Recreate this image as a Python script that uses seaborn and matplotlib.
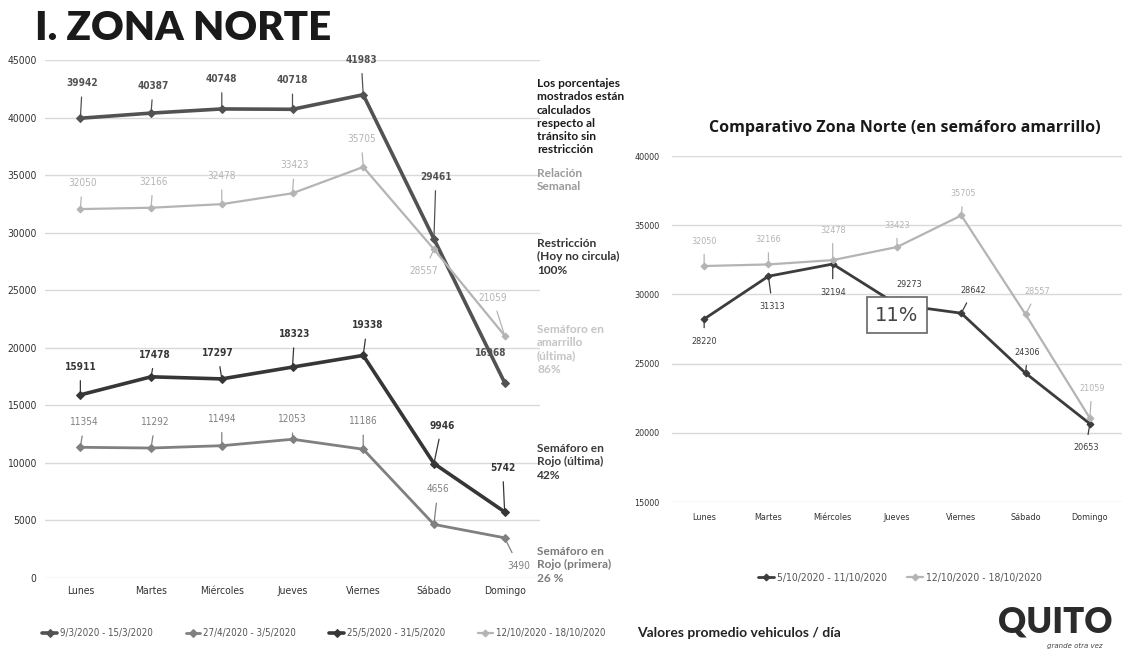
import pandas as pd
import seaborn as sns
import matplotlib.pyplot as plt

# Data
dias = ["Lunes", "Martes", "Miércoles", "Jueves", "Viernes", "Sábado", "Domingo"]

sem_9_3 = [39942, 40387, 40748, 40718, 41983, 29461, 16968]
sem_27_4 = [11354, 11292, 11494, 12053, 11186, 4656, 3490]
sem_25_5 = [15911, 17478, 17297, 18323, 19338, 9946, 5742]
sem_12_10 = [32050, 32166, 32478, 33423, 35705, 28557, 21059]
sem_5_10 = [28220, 31313, 32194, 29273, 28642, 24306, 20653]

izq_series = ["9/3/2020 - 15/3/2020", "27/4/2020 - 3/5/2020",
              "25/5/2020 - 31/5/2020", "12/10/2020 - 18/10/2020"]
der_series = ["5/10/2020 - 11/10/2020", "12/10/2020 - 18/10/2020"]

notas = [
    ("Los porcentajes\nmostrados están\ncalculados\nrespecto al\ntránsito sin\nrestricción", "#1a1a1a"),
    ("Relación\nSemanal", "#9a9a9a"),
    ("Restricción\n(Hoy no circula)\n100%", "#333333"),
    ("Semáforo en\namarrillo\n(última)\n86%", "#c4c4c4"),
    ("Semáforo en\nRojo (última)\n42%", "#3a3a3a"),
    ("Semáforo en\nRojo (primera)\n26 %", "#7a7a7a"),
]
notas_y = [78, 168, 238, 324, 443, 546]

# label offsets (pixels, dx / dy up)
off_9_3 = [(2, 35), (2, 27), (0, 30), (0, 29), (-2, 35), (2, 62), (-14, 30)]
off_27_4 = [(4, 25), (4, 26), (0, 27), (0, 20), (0, 28), (4, 35), (14, -28)]
off_25_5 = [(0, 28), (4, 22), (-4, 26), (2, 33), (4, 30), (8, 38), (-2, 44)]
off_12_10 = [(2, 26), (2, 26), (0, 28), (2, 28), (-2, 28), (-10, -22), (-12, 38)]
off_5_10 = [(0, -22), (4, -30), (0, -28), (12, 20), (12, 23), (2, 21), (-4, -24)]
off_12_10_der = [(0, 25), (0, 25), (0, 30), (0, 22), (2, 22), (12, 23), (2, 30)]

sns.set_style("white")
plt.rcParams["font.family"] = ["DejaVu Sans"]
fino = dict(family="DejaVu Sans", stretch="condensed")

fig = plt.figure(figsize=(11.24, 6.56), dpi=100)
ax1 = fig.add_axes([45 / 1124, 1 - 578 / 656, 495 / 1124, 518 / 656])
ax2 = fig.add_axes([672 / 1124, 1 - 502 / 656, 450 / 1124, 346 / 656])


def dibujar(ax, valores, nombre, color, lw, ms, offsets, tam, peso="normal"):
    df = pd.DataFrame({"dia": dias, "valor": valores})
    sns.lineplot(data=df, x="dia", y="valor", ax=ax, color=color, linewidth=lw,
                 marker="D", markersize=ms, markeredgecolor=color, sort=False,
                 label=nombre)
    for d, v, (dx, dy) in zip(dias, valores, offsets):
        ax.annotate(str(v), xy=(d, v), xytext=(dx * 0.72, dy * 0.72),
                    textcoords="offset points", ha="center", va="center",
                    fontsize=tam, color=color, fontweight=peso, **fino,
                    arrowprops=dict(arrowstyle="-", color=color, lw=0.9,
                                    shrinkA=4, shrinkB=2))


# Left chart
dibujar(ax1, sem_9_3, izq_series[0], "#525252", 2.6, 4, off_9_3, 7.2, "bold")
dibujar(ax1, sem_27_4, izq_series[1], "#808080", 2.0, 4, off_27_4, 7.2)
dibujar(ax1, sem_25_5, izq_series[2], "#363636", 2.6, 4.5, off_25_5, 7.2, "bold")
dibujar(ax1, sem_12_10, izq_series[3], "#b4b4b4", 1.6, 3.5, off_12_10, 7.2)

ax1.set_ylim(0, 45000)
ax1.set_xlim(-0.5, 6.5)
ax1.set_yticks(range(0, 45001, 5000))
ax1.yaxis.grid(True, color="#d9d9d9", linewidth=1)
ax1.set_xlabel("")
ax1.set_ylabel("")
ax1.tick_params(axis="both", labelsize=7.5, colors="#333333", length=0, pad=6)
for lab in ax1.get_xticklabels() + ax1.get_yticklabels():
    lab.set_family("DejaVu Sans")
    lab.set_stretch("condensed")
sns.despine(ax=ax1, left=True, bottom=True)
h, l = ax1.get_legend_handles_labels()
ax1.get_legend().remove()
fig.legend(h, l, ncol=4, loc="center left", bbox_to_anchor=(0.03, 1 - 633 / 656),
           frameon=False, handlelength=1.5, handletextpad=0.3, columnspacing=3.4,
           labelcolor="#555555", prop=dict(size=7, **fino))

# Right chart
dibujar(ax2, sem_5_10, der_series[0], "#3c3c3c", 2.0, 3.5, off_5_10, 6.5)
dibujar(ax2, sem_12_10, der_series[1], "#b4b4b4", 1.6, 3.5, off_12_10_der, 6.5)

ax2.set_ylim(15000, 40000)
ax2.set_xlim(-0.5, 6.5)
ax2.set_yticks(range(15000, 40001, 5000))
ax2.yaxis.grid(True, color="#d9d9d9", linewidth=1)
ax2.set_xlabel("")
ax2.set_ylabel("")
ax2.tick_params(axis="x", labelsize=6.5, colors="#333333", length=0, pad=8)
ax2.tick_params(axis="y", labelsize=6.5, colors="#333333", length=0, pad=9)
for lab in ax2.get_xticklabels() + ax2.get_yticklabels():
    lab.set_family("DejaVu Sans")
    lab.set_stretch("condensed")
sns.despine(ax=ax2, left=True, bottom=True)
h, l = ax2.get_legend_handles_labels()
ax2.get_legend().remove()
fig.legend(h, l, ncol=2, loc="center", bbox_to_anchor=(900 / 1124, 1 - 578 / 656),
           frameon=False, handlelength=1.5, handletextpad=0.3, columnspacing=2.0,
           labelcolor="#555555", prop=dict(size=7.5, **fino))

ax2.text(3.0, 28500, "11%", ha="center", va="center", fontsize=14,
         color="#444444", bbox=dict(boxstyle="square,pad=0.45", fc="white",
                                    ec="#666666", lw=1.2))

# Texts
fig.text(35 / 1124, 1 - 28 / 656, "I. ZONA NORTE", fontsize=29, fontweight="heavy",
         family=["Lato", "DejaVu Sans"], color="#1a1a1a", va="center")
for (txt, col), y in zip(notas, notas_y):
    fig.text(537 / 1124, 1 - y / 656, txt, fontsize=8.6, fontweight="bold",
             color=col, va="top", linespacing=1.25, family=["Lato", "DejaVu Sans"])
fig.text(905 / 1124, 1 - 128 / 656, "Comparativo Zona Norte (en semáforo amarrillo)",
         ha="center", va="center", fontsize=11.5, fontweight="bold",
         family=["Open Sans", "DejaVu Sans"], color="#1a1a1a")
fig.text(637 / 1124, 1 - 633 / 656, "Valores promedio vehiculos / día",
         fontsize=10, fontweight="bold", family=["Lato", "DejaVu Sans"],
         color="#222222", va="center")
fig.text(1055 / 1124, 1 - 622 / 656, "QUITO", ha="center", va="center",
         fontsize=25, fontweight="heavy", family=["Lato", "DejaVu Sans"],
         color="#2b2b2b")
fig.text(1075 / 1124, 1 - 646 / 656, "grande otra vez", ha="center", va="center",
         fontsize=5, style="italic", color="#444444")

fig.savefig("out.png", dpi=100, facecolor="white")
